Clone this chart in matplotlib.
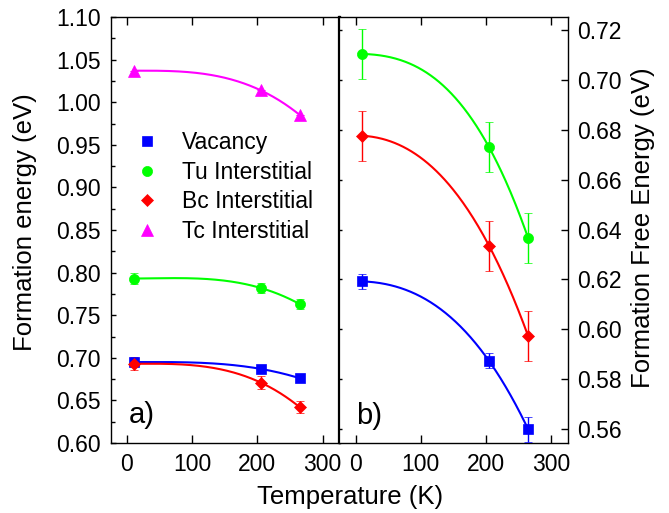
import numpy as np
import matplotlib
matplotlib.use('Agg')
import matplotlib.pyplot as plt
from matplotlib.lines import Line2D

plt.rcParams['font.family'] = ['Liberation Sans', 'DejaVu Sans']

# ---------------- data ----------------
temps = [10, 205, 265]
series_labels = ['Vacancy', 'Tu Interstitial', 'Bc Interstitial', 'Tc Interstitial']

# panel a) formation energy (eV)
vac_a = [0.695, 0.687, 0.676]
vac_a_err = [0.004, 0.003, 0.003]
tu_a = [0.793, 0.782, 0.763]
tu_a_err = [0.006, 0.006, 0.006]
bc_a = [0.693, 0.671, 0.642]
bc_a_err = [0.0075, 0.0073, 0.0068]
tc_a = [1.037, 1.014, 0.985]
tc_a_err = [0.0, 0.0, 0.0]

# panel b) formation free energy (eV)
vac_b = [0.6192, 0.5873, 0.5600]
vac_b_err = [0.003, 0.003, 0.005]
tu_b = [0.7104, 0.6730, 0.6367]
tu_b_err = [0.010, 0.010, 0.010]
bc_b = [0.6776, 0.6335, 0.5974]
bc_b_err = [0.010, 0.010, 0.010]

x_ticks = [0, 100, 200, 300]
ya_ticks = [0.60, 0.65, 0.70, 0.75, 0.80, 0.85, 0.90, 0.95, 1.00, 1.05, 1.10]
yb_ticks = [0.56, 0.58, 0.60, 0.62, 0.64, 0.66, 0.68, 0.70, 0.72]

colors = ['#0000ff', '#00ff00', '#ff0000', '#ff00ff']
markers = ['s', 'o', 'D', '^']
msizes = [6.7, 7.3, 6.2, 8.5]


def fit_curve(T, y):
    T = np.asarray(T, float)
    y = np.asarray(y, float)
    A = np.column_stack([np.ones_like(T), T ** 2, T ** 3])
    coef = np.linalg.lstsq(A, y, rcond=None)[0]
    Tg = np.linspace(T[0], T[-1], 200)
    Ag = np.column_stack([np.ones_like(Tg), Tg ** 2, Tg ** 3])
    return Tg, Ag @ coef


W, H = 669, 513
fig = plt.figure(figsize=(W / 100, H / 100), dpi=100)
ax1 = fig.add_axes([110.7 / W, 1 - 443 / H, (339.5 - 110.7) / W, (443 - 17) / H])
ax2 = fig.add_axes([339.5 / W, 1 - 443 / H, (567.7 - 339.5) / W, (443 - 17) / H])

panel_a = [(vac_a, vac_a_err), (tu_a, tu_a_err), (bc_a, bc_a_err), (tc_a, tc_a_err)]
panel_b = [(vac_b, vac_b_err), (tu_b, tu_b_err), (bc_b, bc_b_err)]

for ax, panel in ((ax1, panel_a), (ax2, panel_b)):
    for i, (vals, err) in enumerate(panel):
        Tg, yg = fit_curve(temps, vals)
        ax.plot(Tg, yg, color=colors[i], lw=1.5, zorder=2)
        ax.errorbar(temps, vals, yerr=err, fmt=markers[i], color=colors[i],
                    ms=msizes[i], mew=0.5, capsize=3, elinewidth=1, capthick=1,
                    zorder=3)

for ax in (ax1, ax2):
    ax.set_xlim(-25, 326)
    ax.set_xticks(x_ticks)
    ax.tick_params(axis='x', which='major', direction='in', length=5.8, width=1,
                   top=True, bottom=True, pad=7, labelsize=16.5)
    for s in ax.spines.values():
        s.set_linewidth(1.0)
ax1.spines['right'].set_linewidth(1.6)
ax2.spines['left'].set_linewidth(1.6)

ax1.set_ylim(0.60, 1.10)
ax1.set_yticks(ya_ticks)
ax1.set_yticklabels(['%.2f' % v for v in ya_ticks])
ax1.set_yticks([0.625, 0.675, 0.725, 0.775, 0.825, 0.875, 0.925, 0.975, 1.025, 1.075], minor=True)
ax1.tick_params(axis='y', which='both', direction='in', left=True, right=False,
                width=1, pad=7, labelsize=16.5)
ax1.tick_params(axis='y', which='major', length=3.4)
ax1.tick_params(axis='y', which='minor', length=3.0)

ax2.set_ylim(0.5544, 0.7252)
ax2.set_yticks(yb_ticks)
ax2.set_yticklabels(['%.2f' % v for v in yb_ticks])
ax2.tick_params(axis='y', which='major', direction='in', left=True, right=True,
                labelleft=False, labelright=True, length=5.0, width=1, pad=6.5,
                labelsize=16.5)
for t in ax2.yaxis.get_major_ticks():
    t.tick1line.set_markersize(2.5)

handles = [Line2D([], [], marker=markers[i], color=colors[i], ls='none',
                  ms=msizes[i], mew=0.5) for i in range(4)]
ax1.legend(handles, series_labels, loc='upper left',
           bbox_to_anchor=(136 / W, 1 - 131 / H), bbox_transform=fig.transFigure,
           frameon=False, handlelength=1.0, handletextpad=1.0, labelspacing=0.29,
           borderpad=0, borderaxespad=0, fontsize=16.5)

fig.text(25 / W, 1 - 222 / H, 'Formation energy (eV)', rotation=90,
         ha='center', va='center', fontsize=18.5)
fig.text(643 / W, 1 - 228 / H, 'Formation Free Energy (eV)', rotation=90,
         ha='center', va='center', fontsize=18.5)
fig.text(349.8 / W, 1 - 497 / H, 'Temperature (K)', ha='center', va='center',
         fontsize=18.5)
fig.text(129 / W, 1 - 423 / H, 'a)', ha='left', va='baseline', fontsize=21)
fig.text(356 / W, 1 - 423.5 / H, 'b)', ha='left', va='baseline', fontsize=21)

fig.savefig('out.png', dpi=100)
